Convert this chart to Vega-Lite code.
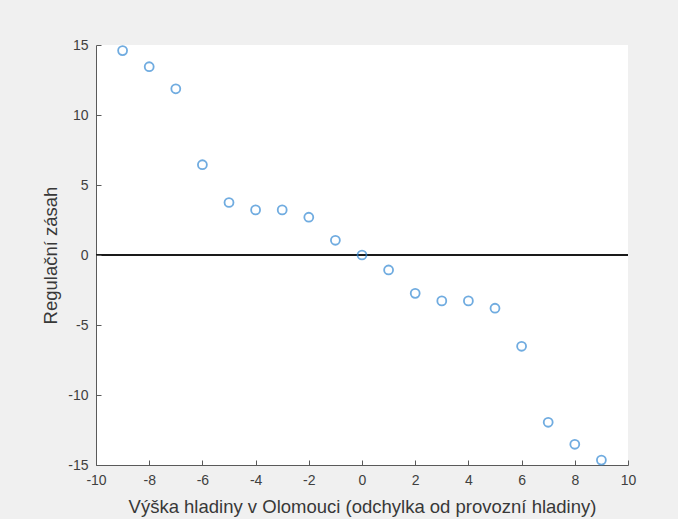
{
  "$schema": "https://vega.github.io/schema/vega-lite/v6.json",
  "autosize": "none",
  "width": 532,
  "height": 420,
  "padding": {"left": 96, "top": 45, "right": 50, "bottom": 54},
  "background": "#f0f0f0",
  "config": {
    "view": {"fill": "#ffffff", "stroke": null},
    "font": "Liberation Sans",
    "axis": {
      "domainColor": "#5a5a5a",
      "domainWidth": 1,
      "tickColor": "#5a5a5a",
      "tickWidth": 1,
      "grid": false,
      "labelColor": "#404040",
      "labelFontSize": 14,
      "labelFont": "Liberation Sans",
      "labelExpr": "replace(datum.label, '−', '-')",
      "titleColor": "#383838",
      "titleFontSize": 18.5,
      "titleFontWeight": "normal",
      "titleFont": "Liberation Sans"
    }
  },
  "data": {
    "values": [
      {"vyska": -9, "zasah": 14.6},
      {"vyska": -8, "zasah": 13.45},
      {"vyska": -7, "zasah": 11.87},
      {"vyska": -6, "zasah": 6.45},
      {"vyska": -5, "zasah": 3.75},
      {"vyska": -4, "zasah": 3.22},
      {"vyska": -3, "zasah": 3.22},
      {"vyska": -2, "zasah": 2.7},
      {"vyska": -1, "zasah": 1.05},
      {"vyska": 0, "zasah": 0},
      {"vyska": 1, "zasah": -1.07},
      {"vyska": 2, "zasah": -2.74},
      {"vyska": 3, "zasah": -3.28},
      {"vyska": 4, "zasah": -3.28},
      {"vyska": 5, "zasah": -3.8},
      {"vyska": 6, "zasah": -6.52},
      {"vyska": 7, "zasah": -11.95},
      {"vyska": 8, "zasah": -13.52},
      {"vyska": 9, "zasah": -14.65}
    ]
  },
  "layer": [
    {
      "mark": {"type": "rule", "color": "#1a1a1a", "strokeWidth": 1},
      "encoding": {
        "y": {"datum": 0, "type": "quantitative", "scale": {"domain": [-15, 15]}, "axis": null}
      }
    },
    {
      "mark": {"type": "point", "shape": "circle", "filled": false, "stroke": "#3489d4", "strokeWidth": 1.8, "size": 80},
      "encoding": {
        "x": {
          "field": "vyska",
          "type": "quantitative",
          "scale": {"domain": [-10, 10], "nice": false},
          "axis": {"orient": "bottom", "values": [-10, -8, -6, -4, -2, 0, 2, 4, 6, 8, 10], "ticks": false, "labelPadding": 8, "titlePadding": 10, "labelFlush": false},
          "title": "Výška hladiny v Olomouci (odchylka od provozní hladiny)"
        },
        "y": {
          "field": "zasah",
          "type": "quantitative",
          "scale": {"domain": [-15, 15], "nice": false},
          "axis": {"orient": "left", "values": [-15, -10, -5, 0, 5, 10, 15], "ticks": false, "labelPadding": 8, "titlePadding": 7, "labelFlush": false},
          "title": "Regulační zásah"
        }
      }
    },
    {
      "description": "inward tick marks along the bottom and left axis lines",
      "mark": {"type": "point", "opacity": 0},
      "encoding": {
        "x": {
          "field": "vyska",
          "type": "quantitative",
          "axis": {"orient": "top", "offset": -420, "values": [-10, -8, -6, -4, -2, 0, 2, 4, 6, 8, 10], "domain": false, "labels": false, "title": null, "ticks": true, "tickSize": 5, "zindex": 1}
        },
        "y": {
          "field": "zasah",
          "type": "quantitative",
          "axis": {"orient": "right", "offset": -532, "values": [-15, -10, -5, 0, 5, 10, 15], "domain": false, "labels": false, "title": null, "ticks": true, "tickSize": 5, "zindex": 1}
        }
      }
    }
  ],
  "resolve": {"axis": {"x": "independent", "y": "independent"}}
}
